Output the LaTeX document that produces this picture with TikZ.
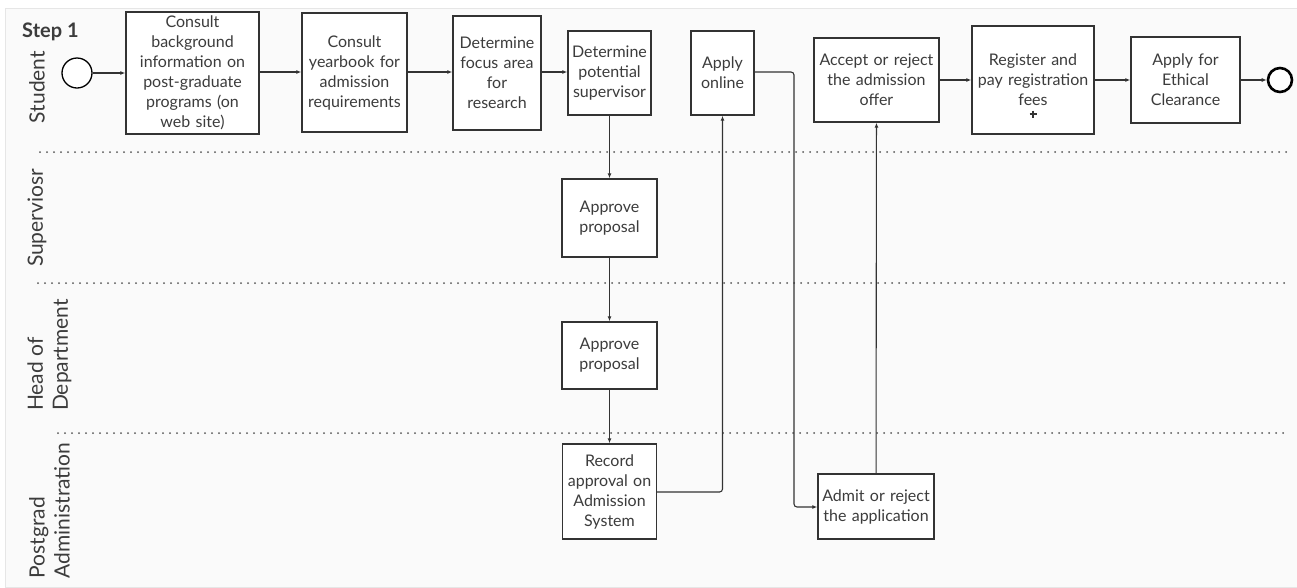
\documentclass[tikz,border=0pt]{standalone}
\usepackage{fontspec}
\setmainfont{Lato}
\usetikzlibrary{arrows.meta}
\definecolor{ink}{HTML}{333333}
\definecolor{txt}{HTML}{3C3C3C}
\definecolor{canvas}{HTML}{FAFAFA}
\definecolor{frame}{HTML}{E6E6E6}
\definecolor{dots}{HTML}{555555}
\begin{document}
\begin{tikzpicture}[x=1pt,y=-1pt,
  task/.style={draw=ink, line width=1.4pt, fill=white, inner sep=0pt, align=center,
    text=txt, font=\fontsize{16}{20}\selectfont},
  flow/.style={draw=ink, line width=1.1pt, rounded corners=3pt, -{Latex[length=5pt,width=4pt]}},
  lane/.style={draw=dots, line width=2pt, line cap=round, dash pattern=on 0pt off 7pt},
  lanelabel/.style={rotate=90, text=txt, align=left, inner sep=0pt,
    font=\fontsize{21}{25}\selectfont},
  event/.style={circle, draw=black, fill=white, inner sep=0pt}]
\useasboundingbox (0,0) rectangle (1297,587);
\fill[canvas, draw=frame, line width=0.8pt] (5,8) rectangle (1297,587);

% lane separators
\draw[lane] (40,152) -- (1290,152);
\draw[lane] (38,283) -- (1290,283);
\draw[lane] (58,433) -- (1290,433);

% title and lane names
\node[anchor=west, text=txt, inner sep=0pt, font=\fontsize{20}{24}\selectfont\bfseries] (title) at (22,32) {Step 1};
\node[lanelabel] (lstudent) at (37,87) {Student};
\node[lanelabel] (lsup) at (37,218) {Superviosr};
\node[lanelabel] (lhod) at (49.5,355) {Head of\\Department};
\node[lanelabel] (lpga) at (49.5,510.5) {Postgrad\\Administration};

% events
\node[event, line width=1.3pt, minimum size=30pt] (start) at (77,73) {};
\node[event, line width=2.6pt, minimum size=24pt] (end) at (1280,80) {};

% student tasks
\node[task, text width=133pt, minimum height=122pt] (b1) at (192.5,73)
  {Consult\\background\\information on\\post-graduate\\programs (on\\web site)};
\node[task, text width=105pt, minimum height=119pt] (b2) at (354.5,72.5)
  {Consult\\yearbook for\\admission\\requirements};
\node[task, text width=88pt, minimum height=114pt] (b3) at (497,73)
  {Determine\\focus area\\for\\research};
\node[task, text width=83pt, minimum height=84pt] (b4) at (609.5,73)
  {Determine\\potential\\supervisor};
\node[task, text width=63pt, minimum height=84pt] (ao) at (722.5,73)
  {Apply\\online};
\node[task, text width=125pt, minimum height=84pt] (acc) at (876.5,80)
  {Accept or reject\\the admission\\offer};
\node[task, text width=122pt, minimum height=108pt] (reg) at (1033,80)
  {Register and\\pay registration\\fees};
\node[task, text width=109pt, minimum height=86pt] (eth) at (1185.5,80)
  {Apply for\\Ethical\\Clearance};
% sub-process marker
\draw[ink, line width=1.6pt] (1033,110.5) -- (1033,117.5) (1029.5,114) -- (1036.5,114);

% other lanes
\node[task, text width=95pt, minimum height=78pt] (sup) at (609.5,218)
  {Approve\\proposal};
\node[task, text width=95pt, minimum height=67pt] (hod) at (609.5,355.5)
  {Approve\\proposal};
\node[task, text width=94pt, minimum height=95pt] (rec) at (609.5,491.5)
  {Record\\approval on\\Admission\\System};
\node[task, text width=116pt, minimum height=65pt] (adm) at (876,506.5)
  {Admit or reject\\the application};

% sequence flows
\draw[flow] (start) -- (start -| b1.west);
\draw[flow] (b1.east |- 0,72) -- (b2.west |- 0,72);
\draw[flow] (b2.east |- 0,72) -- (b3.west |- 0,72);
\draw[flow] (b3.east |- 0,72) -- (b4.west |- 0,72);
\draw[flow] (b4) -- (sup);
\draw[flow] (sup) -- (hod);
\draw[flow] (hod) -- (rec);
\draw[flow] (rec.east |- 0,492) -| (ao.south);
\coordinate (drop) at (794,507);
\draw[flow] (ao.east |- 0,72) -| (drop) -- (adm.west |- drop);
\draw[flow] (adm) -- (acc);
\draw[flow] (acc) -- (reg);
\draw[flow] (reg) -- (eth);
\draw[flow] (eth) -- (end);
\end{tikzpicture}
\end{document}
